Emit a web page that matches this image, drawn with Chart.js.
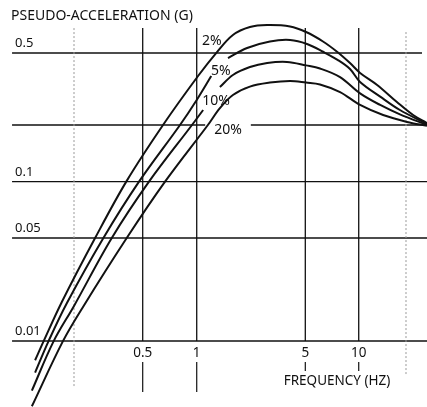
<!DOCTYPE html>
<html>
<head>
<meta charset="utf-8">
<script src="https://cdn.jsdelivr.net/npm/chart.js@4.4.1/dist/chart.umd.min.js"></script>
<style>
  html, body { margin: 0; padding: 0; background: #fff; }
  #wrap { position: relative; width: 427px; height: 407px; }
</style>
</head>
<body>
<div id="wrap"><canvas id="spectraChart"></canvas></div>
<script>
// response spectra, one curve per damping ratio (frequency Hz -> pseudo-acceleration g)
const freq2 = [0.119, 0.133, 0.170, 0.265, 0.404, 0.649, 1.02, 1.35, 1.71, 2.20, 2.84, 3.99, 5.05, 6.29, 7.55, 8.93, 10.2, 13.1, 17.5, 22.2, 27.2];
const acc2 = [0.0074, 0.0099, 0.0184, 0.050, 0.101, 0.200, 0.373, 0.506, 0.629, 0.696, 0.714, 0.701, 0.653, 0.579, 0.508, 0.440, 0.388, 0.333, 0.268, 0.227, 0.205];

const freq5 = [0.119, 0.142, 0.182, 0.296, 0.476, 0.807, 1.00, 1.24, 1.42, 1.59, 2.11, 2.96, 3.99, 5.11, 6.29, 7.64, 8.93, 10.2, 13.7, 18.3, 27.2];
const acc5 = [0.0061, 0.0099, 0.0181, 0.050, 0.100, 0.200, 0.275, 0.373, null, 0.469, 0.533, 0.579, 0.590, 0.561, 0.508, 0.457, 0.408, 0.346, 0.287, 0.242, 0.2025];

const freq10 = [0.114, 0.152, 0.200, 0.331, 0.542, 0.941, 1.10, 1.25, 1.41, 1.71, 2.20, 2.84, 3.81, 5.05, 6.05, 7.85, 10.2, 13.7, 18.3, 27.2];
const acc10 = [0.0046, 0.0099, 0.0173, 0.050, 0.100, 0.200, 0.242, null, 0.324, 0.378, 0.418, 0.440, 0.446, 0.427, 0.4105, 0.368, 0.299, 0.258, 0.229, 0.200];

const freq20 = [0.114, 0.172, 0.226, 0.404, 0.666, 1.18, 1.41, 1.71, 2.20, 2.96, 3.99, 5.05, 6.05, 7.85, 10.2, 14.3, 20.3, 27.2];
const acc20 = [0.0036, 0.0099, 0.0171, 0.050, 0.100, 0.200, 0.248, 0.293, 0.326, 0.343, 0.350, 0.343, 0.335, 0.304, 0.258, 0.227, 0.208, 0.198];

// damping labels and where they sit (freq, acc)
const dampLabels = ['2%', '5%', '10%', '20%'];
const dampLabelFreq = [1.25, 1.43, 1.33, 1.59];
const dampLabelAcc = [0.582, 0.398, 0.2715, 0.188];

// grid + tick labels
const xGridValues = [0.5, 1, 5, 10];
const xFaintValues = [0.2, 20];
const yGridValues = [0.5, 0.2, 0.1, 0.05, 0.01];
const xTickValues = [0.5, 1, 5, 10];
const xTickLabels = ['0.5', '1', '5', '10'];
const yTickValues = [0.5, 0.1, 0.05, 0.01];
const yTickLabels = ['0.5', '0.1', '0.05', '0.01'];

const yTitle = 'PSEUDO-ACCELERATION (G)';
const xTitle = 'FREQUENCY (HZ)';

const gridTop = 0.687;   // top end of vertical grid lines (g)
const gridLeft = 0.0875; // left end of horizontal grid lines (Hz)

const FONT = '"Noto Sans", "DejaVu Sans", sans-serif';
const INK = '#111';

// log axis whose decades are not all the same length (the printed grid isn't),
// calibrated with [value, fraction of axis] stops
const LogScale = Chart.LogarithmicScale || Chart.registry.getScale('logarithmic');
class CalibratedLogScale extends LogScale {
    _decimalOf(value) {
        const stops = this.options.stops;
        const lv = Math.log10(value);
        let i = 0;
        while (i < stops.length - 2 && lv > Math.log10(stops[i + 1][0])) i++;
        const la = Math.log10(stops[i][0]);
        const lb = Math.log10(stops[i + 1][0]);
        return stops[i][1] + (lv - la) / (lb - la) * (stops[i + 1][1] - stops[i][1]);
    }
    getPixelForValue(value) {
        if (value === null || value === undefined || !(value > 0)) return NaN;
        return this.getPixelForDecimal(this._decimalOf(value));
    }
    getValueForPixel(pixel) {
        const d = this.getDecimalForPixel(pixel);
        const stops = this.options.stops;
        let i = 0;
        while (i < stops.length - 2 && d > stops[i + 1][1]) i++;
        const la = Math.log10(stops[i][0]);
        const lb = Math.log10(stops[i + 1][0]);
        const t = (d - stops[i][1]) / (stops[i + 1][1] - stops[i][1]);
        return Math.pow(10, la + t * (lb - la));
    }
}
CalibratedLogScale.id = 'calibratedLog';
CalibratedLogScale.defaults = LogScale.defaults;
Chart.register(CalibratedLogScale);

function toPoints(f, a) {
    return f.map((v, i) => ({ x: v, y: a[i] }));
}

function strokeLine(ctx, x1, y1, x2, y2) {
    ctx.beginPath();
    ctx.moveTo(x1, y1);
    ctx.lineTo(x2, y2);
    ctx.stroke();
}

const chartDecor = {
    id: 'chartDecor',
    beforeDatasetsDraw(chart) {
        const { ctx, chartArea } = chart;
        const xs = chart.scales.x;
        const ys = chart.scales.y;
        const top = ys.getPixelForValue(gridTop);
        const base = ys.getPixelForValue(0.01);
        const left = xs.getPixelForValue(gridLeft);

        ctx.save();
        ctx.strokeStyle = INK;
        ctx.lineWidth = 1.3;
        yGridValues.forEach(v => {
            const py = ys.getPixelForValue(v);
            const right = v === 0.5 ? chartArea.right - 5 : chartArea.right;
            strokeLine(ctx, left, py, right, py);
        });
        xGridValues.forEach(v => {
            const px = xs.getPixelForValue(v);
            strokeLine(ctx, px, top, px, base);
        });

        // little stubs under the frequency labels
        ctx.lineWidth = 1.2;
        [0.5, 1].forEach(v => {
            const px = xs.getPixelForValue(v);
            strokeLine(ctx, px, base + 21, px, base + 51);
        });
        [5, 10].forEach(v => {
            const px = xs.getPixelForValue(v);
            strokeLine(ctx, px, base + 21, px, base + 30);
        });

        // faint dotted lines at 0.2 and 20 Hz
        ctx.strokeStyle = '#9a9a9a';
        ctx.lineWidth = 1;
        ctx.setLineDash([2, 2]);
        const pLo = xs.getPixelForValue(xFaintValues[0]);
        const pHi = xs.getPixelForValue(xFaintValues[1]);
        strokeLine(ctx, pLo, top, pLo, base + 46);
        strokeLine(ctx, pHi, top + 4, pHi, base + 34);
        ctx.setLineDash([]);

        // the 20% label breaks the 0.2 g line
        ctx.font = '14px ' + FONT;
        const lx = xs.getPixelForValue(dampLabelFreq[3]);
        const ly = ys.getPixelForValue(dampLabelAcc[3]);
        const w = ctx.measureText(dampLabels[3]).width;
        ctx.fillStyle = '#fff';
        ctx.fillRect(lx - w / 2 - 9, ly - 10, w + 18, 19);
        ctx.restore();
    },
    afterDatasetsDraw(chart) {
        const { ctx } = chart;
        const xs = chart.scales.x;
        const ys = chart.scales.y;
        const base = ys.getPixelForValue(0.01);

        ctx.save();
        ctx.fillStyle = INK;

        ctx.font = '14px ' + FONT;
        ctx.textAlign = 'left';
        ctx.textBaseline = 'alphabetic';
        ctx.fillText(yTitle, 11, 20);

        ctx.font = '13px ' + FONT;
        yTickValues.forEach((v, i) => {
            ctx.fillText(yTickLabels[i], 15, ys.getPixelForValue(v) - 6);
        });

        ctx.textAlign = 'center';
        ctx.font = '13.5px ' + FONT;
        xTickValues.forEach((v, i) => {
            ctx.fillText(xTickLabels[i], xs.getPixelForValue(v), base + 16);
        });
        ctx.fillText(xTitle, 337, base + 44);

        ctx.font = '14px ' + FONT;
        ctx.textBaseline = 'middle';
        dampLabels.forEach((t, i) => {
            ctx.fillText(t, xs.getPixelForValue(dampLabelFreq[i]), ys.getPixelForValue(dampLabelAcc[i]));
        });
        ctx.restore();
    }
};

function curve(f, a) {
    return {
        data: toPoints(f, a),
        borderColor: INK,
        borderWidth: 2,
        pointRadius: 0,
        fill: false,
        spanGaps: false,
        tension: 0.35
    };
}

const ctx = document.getElementById('spectraChart').getContext('2d');
new Chart(ctx, {
    type: 'line',
    data: {
        datasets: [
            curve(freq2, acc2),
            curve(freq5, acc5),
            curve(freq10, acc10),
            curve(freq20, acc20)
        ]
    },
    options: {
        responsive: true,
        maintainAspectRatio: false,
        animation: false,
        events: [],
        layout: { padding: 0 },
        scales: {
            x: {
                type: 'calibratedLog', min: 0.0745, max: 27.2, bounds: 'data', display: false,
                stops: [[0.0745, 0], [0.2, 0.1733], [0.5, 0.3342], [1, 0.4607], [5, 0.7150], [10, 0.8401], [20, 0.9508], [27.2, 1]]
            },
            y: {
                type: 'calibratedLog', min: 0.00356, max: 0.982, bounds: 'data', display: false,
                stops: [[0.00356, 0], [0.01, 0.1622], [0.05, 0.4152], [0.1, 0.5536], [0.2, 0.6929], [0.5, 0.8698], [0.982, 1]]
            }
        },
        plugins: {
            legend: { display: false },
            tooltip: { enabled: false }
        }
    },
    plugins: [chartDecor]
});
</script>
</body>
</html>
